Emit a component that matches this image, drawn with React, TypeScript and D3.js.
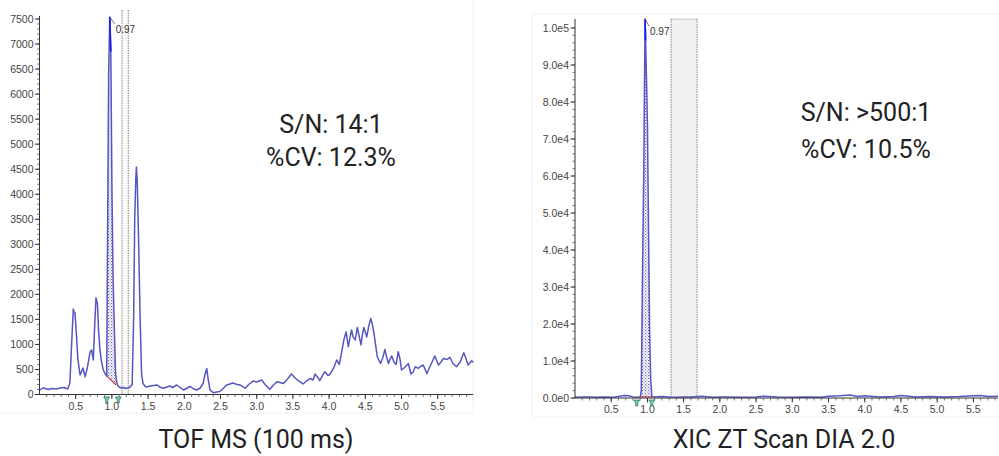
import React from "react";
import * as d3 from "d3";

// ---------- DATA ----------
const leftTime = [
  0.007, 0.05, 0.12, 0.17, 0.23, 0.28, 0.34, 0.39, 0.42, 0.44, 0.467, 0.476, 0.49, 0.51, 0.53, 0.56,
  0.6, 0.63, 0.66, 0.7, 0.72, 0.743, 0.76, 0.78, 0.8, 0.815, 0.835, 0.857, 0.88, 0.905, 0.928,
  0.945, 0.955, 0.97, 0.985, 1.0, 1.015, 1.035, 1.05, 1.065, 1.08, 1.1, 1.13, 1.16, 1.19, 1.22,
  1.25, 1.28, 1.3, 1.315, 1.33, 1.338, 1.35, 1.37, 1.39, 1.41, 1.43, 1.46,
  1.48, 1.53, 1.62, 1.66, 1.71, 1.76, 1.8, 1.84, 1.895, 1.94, 1.99, 2.04, 2.08, 2.12, 2.17, 2.22,
  2.26, 2.285, 2.31, 2.33, 2.355, 2.4, 2.45, 2.49, 2.535, 2.585, 2.63, 2.67, 2.73, 2.77, 2.84,
  2.89, 2.95, 3.0, 3.07, 3.115, 3.18, 3.225, 3.28, 3.32, 3.37, 3.42, 3.48, 3.53, 3.575, 3.64,
  3.68, 3.74, 3.78, 3.805, 3.85, 3.87, 3.91, 3.94, 3.985, 4.01, 4.06, 4.105, 4.14, 4.17, 4.205,
  4.235, 4.265, 4.29, 4.31, 4.33, 4.36, 4.39, 4.41, 4.44, 4.46, 4.48, 4.52, 4.545, 4.575, 4.6,
  4.62, 4.665, 4.71, 4.745, 4.77, 4.795, 4.82, 4.84, 4.865, 4.895, 4.925, 4.955, 4.98, 5.0, 5.05,
  5.095, 5.13, 5.16, 5.19, 5.23, 5.27, 5.3, 5.35, 5.39, 5.46, 5.51, 5.545, 5.58, 5.63, 5.67, 5.71,
  5.76, 5.81, 5.86, 5.89, 5.92, 5.97, 5.99,
];
const leftIntensity = [
  90, 135, 100, 120, 110, 130, 140, 110, 230, 900, 1710, 1650, 1630, 1200, 700, 390,
  530, 355, 530, 855, 890, 690, 1300, 1930, 1820, 1300, 890, 650, 490, 420, 370,
  4300, 6400, 7540, 6850, 4200, 2400, 1250, 450, 250, 180, 150, 130, 140, 120, 130,
  150, 200, 1500, 3500, 4300, 4545, 4250, 3000, 1500, 400, 220, 160,
  150, 170, 190, 150, 125, 150, 170, 140, 190, 140, 90, 130, 160, 120, 90, 130,
  220, 400, 520, 300, 90, 36, 50, 60, 120, 190, 210, 230, 200, 190, 125,
  200, 270, 250, 290, 200, 105, 180, 255, 240, 220, 300, 410, 330, 275, 210,
  260, 320, 290, 410, 330, 275, 380, 455, 380, 400, 520, 690, 600, 820, 1100,
  1250, 955, 1150, 1290, 1150, 1090, 1340, 1200, 990, 1200, 1340, 1150, 1350, 1520, 1380,
  1220, 755, 620, 750, 900, 750, 620, 700, 770, 650, 600, 855, 700, 490, 550,
  620, 410, 450, 555, 520, 570, 590, 420, 550, 770, 590, 650, 720, 700, 740, 620,
  555, 650, 835, 720, 590, 675, 640,
];

const rightTime = [
  0.0, 0.1, 0.2, 0.3, 0.4, 0.5, 0.55, 0.62, 0.68, 0.74, 0.8, 0.86, 0.9, 0.915, 0.93, 0.95, 0.967,
  0.975, 0.985, 1.0, 1.015, 1.03, 1.045, 1.06, 1.08, 1.2, 1.3, 1.4, 1.5, 1.6, 1.75, 1.9, 2.0, 2.1,
  2.3, 2.5, 2.6, 2.8, 3.0, 3.2, 3.4, 3.5, 3.65, 3.8, 3.9, 4.0, 4.2, 4.4, 4.5, 4.7, 4.9, 5.1, 5.3,
  5.5, 5.6, 5.7, 5.84,
];
const rightIntensity = [
  200, 250, 300, 200, 250, 200, 300, 500, 700, 600, 300, 200, 300, 2000, 30000, 62000, 102400,
  96600, 88000, 74000, 46000, 17900, 5300, 500, 300, 400, 250, 200, 250, 300, 500, 200, 250, 300,
  200, 300, 500, 300, 200, 300, 200, 500, 600, 800, 400, 600, 300, 400, 700, 300, 400, 300, 400,
  600, 700, 400, 500,
];

const leftYTicks = [0, 500, 1000, 1500, 2000, 2500, 3000, 3500, 4000, 4500, 5000, 5500, 6000, 6500, 7000, 7500];
const leftYLabels = ["0", "500", "1000", "1500", "2000", "2500", "3000", "3500", "4000", "4500", "5000", "5500", "6000", "6500", "7000", "7500"];
const rightYTicks = [0, 10000, 20000, 30000, 40000, 50000, 60000, 70000, 80000, 90000, 100000];
const rightYLabels = ["0.0e0", "1.0e4", "2.0e4", "3.0e4", "4.0e4", "5.0e4", "6.0e4", "7.0e4", "8.0e4", "9.0e4", "1.0e5"];
const xTicks = [0.5, 1.0, 1.5, 2.0, 2.5, 3.0, 3.5, 4.0, 4.5, 5.0, 5.5];
const xTickLabels = ["0.5", "1.0", "1.5", "2.0", "2.5", "3.0", "3.5", "4.0", "4.5", "5.0", "5.5"];
const apexLabel = "0.97";

const leftTitle = "TOF MS (100 ms)";
const rightTitle = "XIC ZT Scan DIA 2.0";
const leftStats = ["S/N: 14:1", "%CV: 12.3%"];
const rightStats = ["S/N: >500:1", "%CV: 10.5%"];

// ---------- COMPONENT ----------
type ChromProps = {
  id: string;
  time: number[];
  intensity: number[];
  xDomain: [number, number];
  xRange: [number, number];
  yDomain: [number, number];
  yRange: [number, number];
  yTicks: number[];
  yLabels: string[];
  yMinor: number;
  axisTop: number;
  peak: [number, number];
  base: [number, number];
  markers: [number, number];
  markerY: number;
  band: [number, number];
  bandTop: number;
  bandFill: string;
  bandTopLine: boolean;
  labelDx: number;
  labelDy: number;
};

function Chrom(p: ChromProps) {
  const x = d3.scaleLinear().domain(p.xDomain).range(p.xRange);
  const y = d3.scaleLinear().domain(p.yDomain).range(p.yRange);
  const interp = d3.scaleLinear().domain(p.time).range(p.intensity);
  const pts: [number, number][] = p.time.map((t, i) => [t, p.intensity[i]]);
  const line = d3
    .line<[number, number]>()
    .x((d) => x(d[0]))
    .y((d) => y(d[1]));

  const [ps, pe] = p.peak;
  const baseAt = (t: number) => p.base[0] + ((p.base[1] - p.base[0]) * (t - ps)) / (pe - ps);
  const areaTs = [ps, ...p.time.filter((t) => t > ps && t < pe), pe];
  const area = d3
    .area<number>()
    .x((t) => x(t))
    .y0((t) => y(baseAt(t)))
    .y1((t) => y(interp(t)));

  let apexIdx = 0;
  p.intensity.forEach((v, i) => {
    if (v > p.intensity[apexIdx]) apexIdx = i;
  });
  const apexX = x(p.time[apexIdx]);
  const apexY = y(p.intensity[apexIdx]);

  const y0 = p.yRange[0];
  const minorY = d3.range(p.yDomain[0], p.yDomain[1] + 1e-9, p.yMinor);
  const minorX = d3.range(0.1, p.xDomain[1], 0.1);
  const axisX = p.xRange[0];
  const tickFont = "'Liberation Sans', Arial, sans-serif";

  return (
    <g>
      <defs>
        <pattern id={`dots-${p.id}`} width="3" height="3" patternUnits="userSpaceOnUse">
          <rect width="3" height="3" fill="#ffffff" />
          <rect x="0" y="0" width="1.2" height="1.2" fill="#6a6ab0" />
          <rect x="1.5" y="1.5" width="1.2" height="1.2" fill="#9a9ac8" />
        </pattern>
      </defs>
      {/* window band */}
      <rect
        x={x(p.band[0])}
        y={p.bandTop}
        width={x(p.band[1]) - x(p.band[0])}
        height={y0 - p.bandTop}
        fill={p.bandFill}
      />
      <line x1={x(p.band[0])} x2={x(p.band[0])} y1={p.bandTop} y2={y0} stroke="#777" strokeWidth={0.9} strokeDasharray="1.5,1" />
      <line x1={x(p.band[1])} x2={x(p.band[1])} y1={p.bandTop} y2={y0} stroke="#777" strokeWidth={0.9} strokeDasharray="1.5,1" />
      {p.bandTopLine && (
        <line x1={x(p.band[0])} x2={x(p.band[1])} y1={p.bandTop} y2={p.bandTop} stroke="#999" strokeWidth={0.8} strokeDasharray="1.5,1" />
      )}

      {/* integrated area */}
      <path d={area(areaTs) || ""} fill={`url(#dots-${p.id})`} stroke="none" />
      <line x1={x(ps)} x2={x(pe)} y1={y(p.base[0])} y2={y(p.base[1])} stroke="#d03030" strokeWidth={1.1} />

      {/* trace */}
      <path d={line(pts) || ""} fill="none" stroke="#5656c2" strokeWidth={1.5} strokeLinejoin="round" />
      <path d={line(pts.slice(apexIdx, apexIdx + 2)) || ""} fill="none" stroke="#1a1af0" strokeWidth={1.6} />

      {/* apex label */}
      <line x1={apexX} y1={apexY} x2={apexX + p.labelDx - 1} y2={apexY + p.labelDy - 9} stroke="#555" strokeWidth={0.8} />
      <text x={apexX + p.labelDx} y={apexY + p.labelDy} fontSize={10} fill="#333" fontFamily={tickFont}>
        {apexLabel}
      </text>

      {/* axes */}
      <line x1={axisX} x2={axisX} y1={p.axisTop} y2={y0} stroke="#333" strokeWidth={1} />
      <line x1={axisX} x2={p.xRange[1]} y1={y0} y2={y0} stroke="#333" strokeWidth={1} />
      {minorY.map((v, i) => (
        <line key={`my${i}`} x1={axisX - 2.5} x2={axisX} y1={y(v)} y2={y(v)} stroke="#555" strokeWidth={0.8} />
      ))}
      {p.yTicks.map((v, i) => (
        <g key={`yt${i}`}>
          <line x1={axisX - 4.5} x2={axisX} y1={y(v)} y2={y(v)} stroke="#333" strokeWidth={1} />
          <text x={axisX - 6} y={y(v) + 3.5} fontSize={10.5} fill="#444" textAnchor="end" fontFamily={tickFont}>
            {p.yLabels[i]}
          </text>
        </g>
      ))}
      {minorX.map((v, i) => (
        <line key={`mx${i}`} x1={x(v)} x2={x(v)} y1={y0} y2={y0 + 2.5} stroke="#555" strokeWidth={0.8} />
      ))}
      {xTicks.map((v, i) => (
        <g key={`xt${i}`}>
          <line x1={x(v)} x2={x(v)} y1={y0} y2={y0 + 4.5} stroke="#333" strokeWidth={1} />
          <text x={x(v)} y={y0 + 15} fontSize={10.5} fill="#444" textAnchor="middle" fontFamily={tickFont}>
            {xTickLabels[i]}
          </text>
        </g>
      ))}

      {/* peak markers */}
      {p.markers.map((t, i) => {
        const mx = x(t);
        const my = p.markerY;
        return (
          <path
            key={`mk${i}`}
            d={`M${mx - 3},${my} L${mx + 3},${my} L${mx + 1},${my + 3} L${mx + 1},${my + 6} L${mx - 1},${my + 6} L${mx - 1},${my + 3} Z`}
            fill="#6fd0b0"
            stroke="#2f6f4f"
            strokeWidth={0.7}
          />
        );
      })}
    </g>
  );
}

export default function App() {
  const bigFont = "Roboto, 'Noto Sans', sans-serif";
  return (
    <svg
      width={999}
      height={456}
      viewBox="0 0 999 456"
      style={{ position: "absolute", left: 0, top: 0, background: "#ffffff" }}
    >
      <rect width={999} height={456} fill="#ffffff" />
      {/* faint panel edges */}
      <line x1={0} x2={473} y1={413} y2={413} stroke="#f0f0f0" />
      <line x1={473} x2={473} y1={0} y2={413} stroke="#f0f0f0" />
      <rect x={532} y={14} width={470} height={403} fill="none" stroke="#f2f2f2" />

      <Chrom
        id="l"
        time={leftTime}
        intensity={leftIntensity}
        xDomain={[0, 5.99]}
        xRange={[39.5, 473.2]}
        yDomain={[0, 7500]}
        yRange={[394.5, 19]}
        yTicks={leftYTicks}
        yLabels={leftYLabels}
        yMinor={100}
        axisTop={16}
        peak={[0.928, 1.057]}
        base={[370, 190]}
        markers={[0.928, 1.088]}
        markerY={397}
        band={[1.14, 1.226]}
        bandTop={10}
        bandFill="#fbfbfb"
        bandTopLine={false}
        labelDx={6}
        labelDy={16}
      />
      <Chrom
        id="r"
        time={rightTime}
        intensity={rightIntensity}
        xDomain={[0, 5.84]}
        xRange={[575, 998]}
        yDomain={[0, 100000]}
        yRange={[398, 28]}
        yTicks={rightYTicks}
        yLabels={rightYLabels}
        yMinor={2000}
        axisTop={19}
        peak={[0.91, 1.065]}
        base={[300, 300]}
        markers={[0.852, 1.06]}
        markerY={400}
        band={[1.326, 1.685]}
        bandTop={19}
        bandFill="#f1f1f1"
        bandTopLine={true}
        labelDx={5}
        labelDy={16}
      />

      {/* stats text */}
      {leftStats.map((s, i) => (
        <text key={`ls${i}`} x={331} y={133 + i * 33} fontSize={25} fill="#222" textAnchor="middle" fontFamily={bigFont}>
          {s}
        </text>
      ))}
      {rightStats.map((s, i) => (
        <text key={`rs${i}`} x={866} y={121 + i * 37} fontSize={25} fill="#222" textAnchor="middle" fontFamily={bigFont}>
          {s}
        </text>
      ))}
      <text x={256} y={448} fontSize={25} fill="#222" textAnchor="middle" fontFamily={bigFont}>
        {leftTitle}
      </text>
      <text x={784} y={448} fontSize={25} fill="#222" textAnchor="middle" fontFamily={bigFont}>
        {rightTitle}
      </text>
    </svg>
  );
}
